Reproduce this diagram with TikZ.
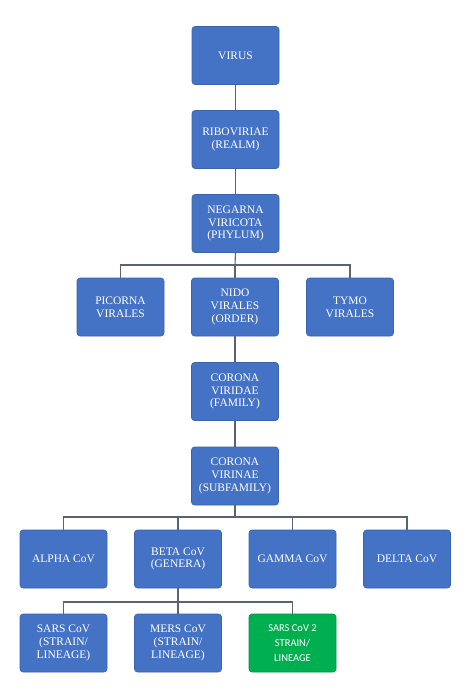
\documentclass[tikz,border=0pt]{standalone}
\usepackage{fontspec}
\setmainfont{Liberation Serif}
\newfontfamily\calfont{Carlito}
\definecolor{boxblue}{HTML}{4472C4}
\definecolor{boxedge}{HTML}{3A63AE}
\definecolor{boxgreen}{HTML}{00B050}
\definecolor{linecol}{HTML}{5A6274}
\begin{document}
\begin{tikzpicture}[x=1pt,y=-1pt,
  tbox/.style={draw=boxedge, line width=0.6pt, fill=boxblue, rounded corners=3pt,
    minimum width=87pt, minimum height=58pt, inner sep=1pt, text=white,
    align=center, font=\fontsize{11.5}{12.8}\selectfont},
  gbox/.style={tbox, draw=boxgreen!85!black, fill=boxgreen, font=\calfont\fontsize{10.5}{15}\selectfont},
  conn/.style={draw=linecol, line width=1.1pt}]
\useasboundingbox (0,0) rectangle (474,697);
\fill[white] (0,0) rectangle (474,697);

\node[tbox] (virus) at (235.5,55.5) {VIRUS};
\node[tbox] (ribo) at (235.5,139.5) {RIBOVIRIAE\\(REALM)};
\node[tbox] (neg) at (235.5,223.5) {NEGARNA\\VIRICOTA\\(PHYLUM)};

\node[tbox] (pic) at (120.5,307) {PICORNA\\VIRALES};
\node[tbox] (nido) at (235,307) {NIDO\\VIRALES\\(ORDER)};
\node[tbox] (tymo) at (350,307) {TYMO\\VIRALES};

\node[tbox] (viridae) at (235,391.5) {CORONA\\VIRIDAE\\(FAMILY)};
\node[tbox] (virinae) at (235,476) {CORONA\\VIRINAE\\(SUBFAMILY)};

\node[tbox] (alpha) at (63.5,559) {ALPHA CoV};
\node[tbox] (beta) at (178,559) {BETA CoV\\(GENERA)};
\node[tbox] (gamma) at (292.5,559) {GAMMA CoV};
\node[tbox] (delta) at (407,559) {DELTA CoV};

\node[tbox] (sars) at (63.5,643) {SARS CoV\\(STRAIN/\\LINEAGE)};
\node[tbox] (mers) at (178,643) {MERS CoV\\(STRAIN/\\LINEAGE)};
\node[gbox] (sars2) at (292.5,643) {SARS CoV 2\\STRAIN/\\LINEAGE};

\coordinate (b1) at (235,265);
\coordinate (b2) at (235,517);
\coordinate (b3) at (178,602);

\draw[conn] (virus) -- (ribo);
\draw[conn] (ribo) -- (neg);
\draw[conn] (neg.south) -- (b1);
\draw[conn] (pic.north) |- (b1) -| (tymo.north);
\draw[conn] (b1) -- (nido.north);
\draw[conn] (nido) -- (viridae);
\draw[conn] (viridae) -- (virinae);
\draw[conn] (virinae.south) -- (b2);
\draw[conn] (alpha.north) |- (b2) -| (delta.north);
\draw[conn] (beta.north) |- (b2);
\draw[conn] (gamma.north) |- (b2);
\draw[conn] (beta.south) -- (b3);
\draw[conn] (sars.north) |- (b3) -| (sars2.north);
\draw[conn] (b3) -- (mers.north);
\end{tikzpicture}
\end{document}
